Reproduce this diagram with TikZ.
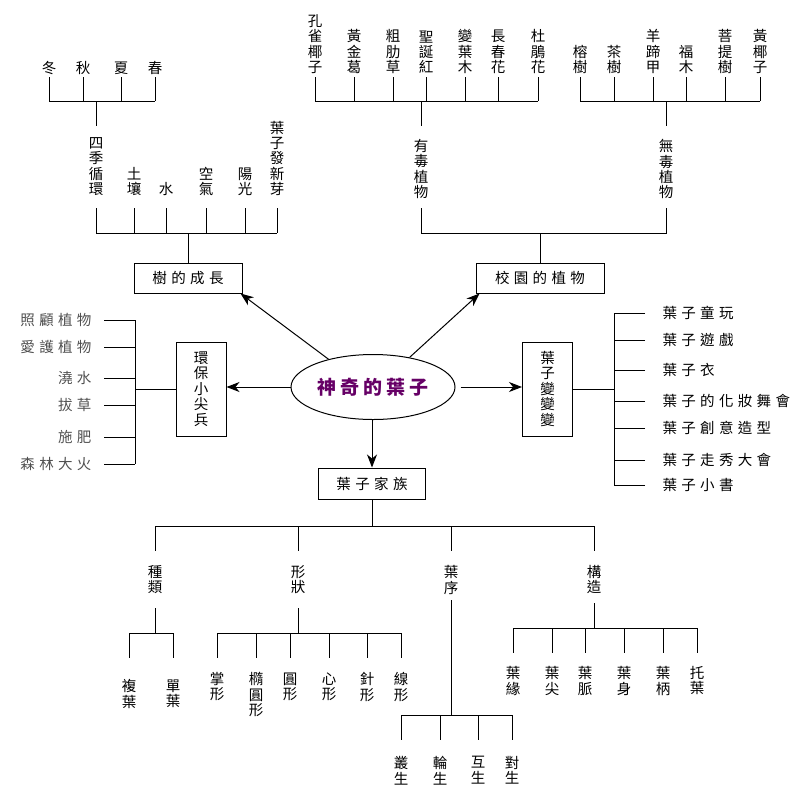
\documentclass[tikz,border=0pt]{standalone}
\usepackage{fontspec}
\setmainfont{Noto Sans CJK TC}
\newfontfamily\spacedcjk[LetterSpace=30]{Noto Sans CJK TC}
\newfontfamily\titlecjk[LetterSpace=20]{Noto Sans CJK TC}
\usepackage{xcolor}
\usetikzlibrary{positioning,calc,arrows.meta,shapes.geometric}
\definecolor{leafPurple}{HTML}{660066}
\definecolor{leafGrey}{HTML}{505050}

\tikzset{
  vlab/.style={align=center, inner sep=0pt, font=\fontsize{14.5}{15.3}\selectfont},
  hlab/.style={inner sep=0pt, font=\spacedcjk\fontsize{14.5}{16}\selectfont},
  catbox/.style={draw, minimum height=30pt, inner sep=0pt,
    font=\spacedcjk\fontsize{14.5}{16}\selectfont},
  vbox/.style={draw, align=center, minimum width=50pt, minimum height=94pt,
    inner sep=0pt, font=\fontsize{14.5}{15.5}\selectfont},
  pointer/.style={-{Stealth[length=13pt,width=10pt,inset=4pt]}},
}

\begin{document}
\begin{tikzpicture}[x=1pt, y=-1pt, line width=1pt]
\useasboundingbox (0,0) rectangle (802,788);

% --- CENTRE AND MAIN BOXES ---
\node[ellipse, draw, minimum width=164pt, minimum height=65pt, inner sep=0pt,
  font=\titlecjk\bfseries\fontsize{19}{20}\selectfont, text=leafPurple]
  (leaf) at (373,387) {神奇的葉子};
\node[catbox, minimum width=108pt] (growth) at (188,278) {樹的成長};
\node[catbox, minimum width=128pt] (campus) at (540,278) {校園的植物};
\node[catbox, minimum width=107pt, minimum height=31pt] (family) at (372,483.5) {葉子家族};
\node[vbox] (guard) at (201,389) {環\\保\\小\\尖\\兵};
\node[vbox] (change) at (547.5,389) {葉\\子\\變\\變\\變};

\draw[pointer] (leaf.148) -- ([xshift=-2pt]growth.south east);
\draw[pointer] (leaf.39) -- ([xshift=4pt]campus.south west);
\draw[pointer] (leaf.west) -- (leaf.west -| guard.east);
\draw[pointer, shorten <=5pt] (leaf.east) -- (leaf.east -| change.west);
\draw[pointer] (family.north |- leaf.south) -- (family.north);

% --- TOP ROW BARS ---
\coordinate (sTop) at (0,77);
\coordinate (sBar) at (0,101);
\coordinate (sStem) at (0,126);
\coordinate (gTop) at (0,208);
\coordinate (gBar) at (0,233);

% --- GROWTH OF THE TREE ---
\foreach [count=\i] \x/\t in {96/四\\季\\循\\環, 134/土\\壤, 166/水,
    206/空\\氣, 245/陽\\光, 277/葉\\子\\發\\新\\芽} {
  \node[vlab, anchor=south] (gf\i) at (\x,196) {\t};
  \draw (gf\i |- gTop) -- (gf\i |- gBar);
}
\draw (gf1 |- gBar) -- (gf6 |- gBar);
\draw (growth.north) -- (growth.north |- gBar);

% seasons
\foreach [count=\i] \x/\t in {49/冬, 83/秋, 121/夏, 155/春} {
  \node[vlab, anchor=south] (sea\i) at (\x,75) {\t};
  \draw (sea\i |- sTop) -- (sea\i |- sBar);
}
\draw (sea1 |- sBar) -- (sea4 |- sBar);
\draw (gf1 |- sBar) -- (gf1 |- sStem);

% --- PLANTS ON CAMPUS ---
\node[vlab, anchor=north] (toxic) at (421,139) {有\\毒\\植\\物};
\node[vlab, anchor=north] (safe) at (666,139) {無\\毒\\植\\物};
\draw (toxic |- gTop) -- (toxic |- gBar) -| (safe |- gTop);
\draw (campus.north) -- (campus.north |- gBar);

\foreach [count=\i] \x/\t in {315/孔\\雀\\椰\\子, 354/黃\\金\\葛, 393/粗\\肋\\草,
    426/聖\\誕\\紅, 465/變\\葉\\木, 498/長\\春\\花, 538/杜\\鵑\\花} {
  \node[vlab, anchor=south] (tx\i) at (\x,74) {\t};
  \draw (tx\i |- sTop) -- (tx\i |- sBar);
}
\draw (tx1 |- sBar) -- (tx7 |- sBar);
\draw (toxic |- sBar) -- (toxic |- sStem);

\foreach [count=\i] \x/\t in {580/榕\\樹, 614/茶\\樹, 653/羊\\蹄\\甲,
    686/福\\木, 725/菩\\提\\樹, 760/黃\\椰\\子} {
  \node[vlab, anchor=south] (sf\i) at (\x,74) {\t};
  \draw (sf\i |- sTop) -- (sf\i |- sBar);
}
\draw (sf1 |- sBar) -- (sf6 |- sBar);
\draw (safe |- sBar) -- (safe |- sStem);

% --- LITTLE GREEN GUARDS (left list) ---
\coordinate (lBar) at (135,0);
\foreach [count=\i] \y/\t in {320/照顧植物, 347/愛護植物, 378/澆水,
    405/拔草, 437/施肥, 464/森林大火} {
  \node[hlab, text=leafGrey, anchor=east] (care\i) at (92,\y) {\t};
  \draw ([xshift=12pt]care\i.east) -- (care\i.east -| lBar);
}
\draw (care1.east -| lBar) -- (care6.east -| lBar);
\draw (guard.west) -- (guard.west -| lBar);

% --- LEAF GAMES (right list) ---
\coordinate (rBar) at (614,0);
\foreach [count=\i] \y/\t in {313/葉子童玩, 340/葉子遊戲, 370/葉子衣,
    401/葉子的化妝舞會, 428/葉子創意造型, 460/葉子走秀大會, 485/葉子小書} {
  \node[hlab, anchor=west] (fun\i) at (662,\y) {\t};
  \draw ([xshift=-17pt]fun\i.west) -- (fun\i.west -| rBar);
}
\draw (fun1.west -| rBar) -- (fun7.west -| rBar);
\draw (change.east) -- (change.east -| rBar);

% --- LEAF FAMILY ---
\coordinate (bBar) at (0,526);
\coordinate (bTop) at (0,551);
\foreach [count=\i] \x/\t in {155/種\\類, 298/形\\狀, 451/葉\\序, 594/構\\造} {
  \node[vlab, anchor=north] (kind\i) at (\x,565) {\t};
  \draw (kind\i |- bBar) -- (kind\i |- bTop);
}
\draw (kind1 |- bBar) -- (kind4 |- bBar);
\draw (family.south) -- (family.south |- bBar);

% kinds
\coordinate (k1S) at (0,608); \coordinate (k1B) at (0,633); \coordinate (k1T) at (0,658);
\draw (kind1 |- k1S) -- (kind1 |- k1B);
\foreach [count=\i] \x/\t in {129/複\\葉, 173/單\\葉} {
  \node[vlab, anchor=north] (sort\i) at (\x,679) {\t};
  \draw (sort\i |- k1B) -- (sort\i |- k1T);
}
\draw (sort1 |- k1B) -- (sort2 |- k1B);

% shapes
\draw (kind2 |- k1S) -- (kind2 |- k1B);
\foreach [count=\i] \x/\t in {217/掌\\形, 256/橢\\圓\\形, 290/圓\\形,
    329/心\\形, 367/針\\形, 401/線\\形} {
  \node[vlab, anchor=north] (shape\i) at (\x,672) {\t};
  \draw (shape\i |- k1B) -- (shape\i |- k1T);
}
\draw (shape1 |- k1B) -- (shape6 |- k1B);

% arrangement
\coordinate (k3S) at (0,600); \coordinate (k3B) at (0,715); \coordinate (k3T) at (0,740);
\draw (kind3 |- k3S) -- (kind3 |- k3B);
\foreach [count=\i] \x/\t in {401/叢\\生, 440/輪\\生, 478/互\\生, 512/對\\生} {
  \node[vlab, anchor=north] (order\i) at (\x,756) {\t};
  \draw (order\i |- k3B) -- (order\i |- k3T);
}
\draw (order1 |- k3B) -- (order4 |- k3B);

% structure
\coordinate (k4S) at (0,603); \coordinate (k4B) at (0,628); \coordinate (k4T) at (0,653);
\draw (kind4 |- k4S) -- (kind4 |- k4B);
\foreach [count=\i] \x/\t in {513/葉\\緣, 552/葉\\尖, 585/葉\\脈,
    624/葉\\身, 663/葉\\柄, 697/托\\葉} {
  \node[vlab, anchor=north] (part\i) at (\x,666) {\t};
  \draw (part\i |- k4B) -- (part\i |- k4T);
}
\draw (part1 |- k4B) -- (part6 |- k4B);

\end{tikzpicture}
\end{document}
